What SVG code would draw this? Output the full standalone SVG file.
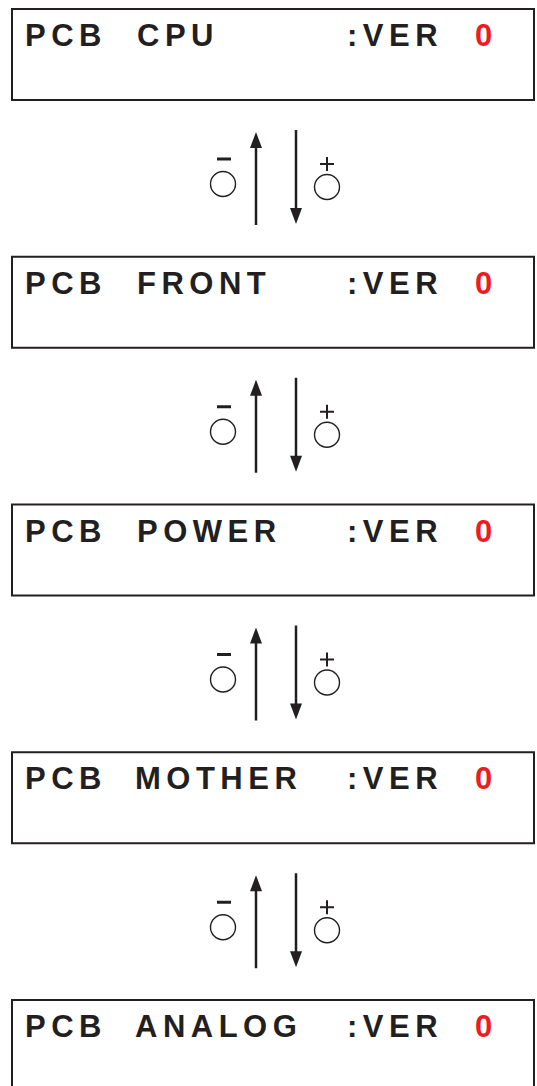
<svg xmlns="http://www.w3.org/2000/svg" width="537" height="1086" viewBox="0 0 537 1086">
<style>
.box{fill:#fff;stroke:#231f20;stroke-width:2}
.t{font-family:"Liberation Sans",Arial,sans-serif;font-weight:bold;font-size:31px;letter-spacing:5.5px;fill:#231f20}
.r{fill:#ed1c24}
.ln{stroke:#231f20;stroke-width:2.5;fill:none}
.hd{fill:#231f20}
.c{fill:#fff;stroke:#231f20;stroke-width:1.4}
.sg{stroke:#231f20;stroke-width:2.5;fill:none}
</style>
<defs>
<g id="conn">
<line class="ln" x1="256" y1="225" x2="256" y2="145"/>
<polygon class="hd" points="256,132 250,148 262,148"/>
<line class="ln" x1="296" y1="130" x2="296" y2="211"/>
<polygon class="hd" points="296,224 290,208 302,208"/>
<line class="sg" x1="217" y1="159" x2="231" y2="159" style="stroke-width:3"/>
<circle class="c" cx="223" cy="184" r="12.5"/>
<line class="sg" x1="320" y1="164" x2="334" y2="164" style="stroke-width:2"/>
<line class="sg" x1="327" y1="157" x2="327" y2="171" style="stroke-width:2"/>
<circle class="c" cx="327" cy="187" r="12.5"/>
</g>
</defs>
<rect width="537" height="1086" fill="#fff"/>
<g id="node-cpu">
<rect class="box" x="12" y="9" width="522" height="91"/>
<text class="t" x="25" y="46">PCB</text><text class="t" x="137" y="46">CPU</text><text class="t" x="347" y="46">:VER</text><text class="t r" x="475" y="46">0</text>
</g>
<g id="node-front" transform="translate(0,247.75)">
<rect class="box" x="12" y="9" width="522" height="91"/>
<text class="t" x="25" y="46">PCB</text><text class="t" x="137" y="46">FRONT</text><text class="t" x="347" y="46">:VER</text><text class="t r" x="475" y="46">0</text>
</g>
<g id="node-power" transform="translate(0,495.5)">
<rect class="box" x="12" y="9" width="522" height="91"/>
<text class="t" x="25" y="46">PCB</text><text class="t" x="137" y="46">POWER</text><text class="t" x="347" y="46">:VER</text><text class="t r" x="475" y="46">0</text>
</g>
<g id="node-mother" transform="translate(0,743.25)">
<rect class="box" x="12" y="9" width="522" height="91"/>
<text class="t" x="25" y="46">PCB</text><text class="t" x="135" y="46">MOTHER</text><text class="t" x="347" y="46">:VER</text><text class="t r" x="475" y="46">0</text>
</g>
<g id="node-analog" transform="translate(0,991)">
<rect class="box" x="12" y="9" width="522" height="91"/>
<text class="t" x="25" y="46">PCB</text><text class="t" x="135" y="46">ANALOG</text><text class="t" x="347" y="46">:VER</text><text class="t r" x="475" y="46">0</text>
</g>
<g id="connectors">
<use href="#conn"/>
<use href="#conn" transform="translate(0,247.75)"/>
<use href="#conn" transform="translate(0,495.5)"/>
<use href="#conn" transform="translate(0,743.25)"/>
</g>
</svg>
